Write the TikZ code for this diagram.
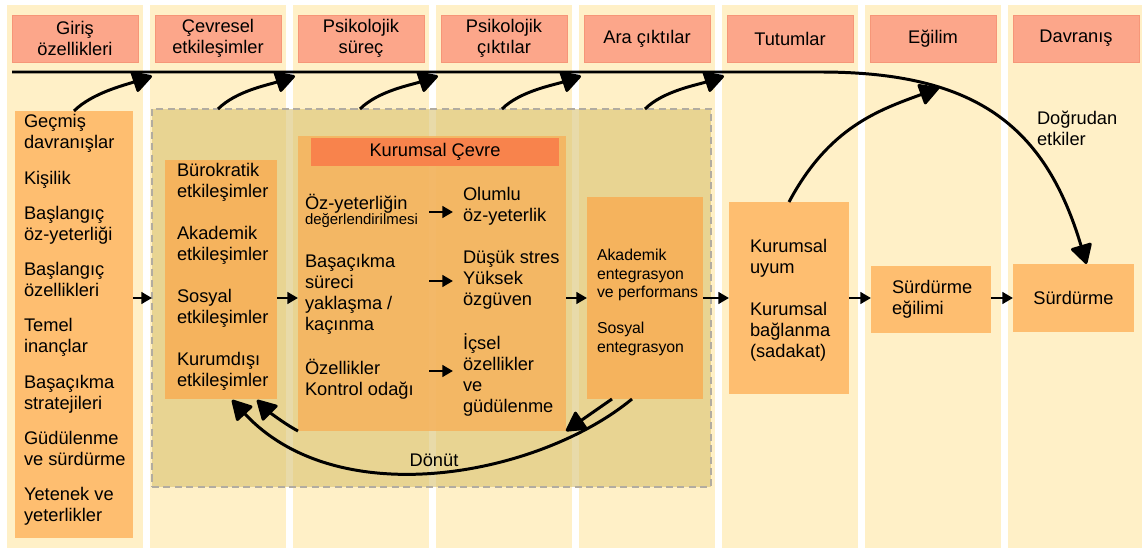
\documentclass[tikz,border=0pt]{standalone}
\usepackage{fontspec}
\setmainfont{Liberation Sans}
\usetikzlibrary{arrows.meta,calc}

\definecolor{colbg}{RGB}{255,240,199}
\definecolor{headfill}{RGB}{252,166,138}
\definecolor{headline}{RGB}{246,150,120}
\definecolor{boxlight}{RGB}{254,190,112}
\definecolor{boxdark}{RGB}{245,179,93}
\definecolor{envhead}{RGB}{249,127,74}
\definecolor{tanfill}{RGB}{218,194,112}
\definecolor{dashgray}{RGB}{178,172,160}

\newcommand\fmain{\fontsize{10.4}{11.9}\selectfont}
\newcommand\fara{\fontsize{9}{10.5}\selectfont}
\newcommand\fnote{\fontsize{8.5}{10}\selectfont}
\newcommand\rows[1]{\begin{tabular}[t]{@{}l@{}}#1\end{tabular}}

\tikzset{
  px/.style 2 args={minimum width=#1*0.02cm, minimum height=#2*0.02cm},
  colhead/.style={fill=headfill, draw=headline, line width=0.4pt, inner sep=0, align=center, font=\fmain},
  box/.style={inner sep=0, outer sep=0},
  txt/.style={inner sep=0, outer sep=0, font=\fmain, anchor=base west},
  flow/.style={line width=1.7pt, -{Triangle[length=6pt,width=6.5pt]}},
  bigarrow/.style={line width=1.7pt, line join=round, -{Triangle[length=12pt,width=13pt,round]}},
}

\begin{document}
\begin{tikzpicture}[x=0.02cm, y=-0.02cm]
\useasboundingbox (0,0) rectangle (1142,550);
\fill[white] (0,0) rectangle (1142,550);

% stage columns and their headings
\foreach \i in {0,...,7}
  \fill[colbg] ({7+143*\i},5) rectangle ({143+143*\i},548);
\foreach \t [count=\i from 0] in {{Giriş\\özellikleri},{Çevresel\\etkileşimler},{Psikolojik\\süreç},{Psikolojik\\çıktılar},{Ara çıktılar},{Tutumlar},{Eğilim},{Davranış}}
  \node[colhead, px={126}{47}] (h\i) at ({75+143*\i},38.5) {\t};

% institutional environment group
\node[box, px={559}{378}, fill=tanfill, fill opacity=0.6, draw=dashgray, dash pattern=on 4pt off 2.5pt, line width=0.7pt] (grp) at (431.5,298) {};

% boxes
\node[box, px={118}{427}, fill=boxlight] (inp) at (74,324.5) {};
\node[box, px={112}{239}, fill=boxdark] (bur) at (221,279.5) {};
\node[box, px={268}{295}, fill=boxdark, fill opacity=0.85] (env) at (432,283.5) {};
\node[box, px={248}{28}, fill=envhead, fill opacity=0.92, text opacity=1, font=\fmain] (envh) at (435,152) {Kurumsal Çevre};
\node[box, px={116}{202}, fill=boxdark] (ara) at (645,298) {};
\node[box, px={120}{192}, fill=boxlight] (uyum) at (789,298) {};
\node[box, px={120}{67}, fill=boxlight] (egil) at (931,299.5) {};
\node[box, px={121}{68}, fill=boxlight, font=\fmain] (surd) at (1073.5,298) {Sürdürme};

% box texts
\node[txt] (inpt) at (24,128) {\rows{Geçmiş\\davranışlar\\[8.2pt]Kişilik\\[8.2pt]Başlangıç\\öz-yeterliği\\[8.2pt]Başlangıç\\özellikleri\\[8.2pt]Temel\\inançlar\\[8.2pt]Başaçıkma\\stratejileri\\[8.2pt]Güdülenme\\ve sürdürme\\[8.2pt]Yetenek ve\\yeterlikler}};
\node[txt] (burt) at (177,177) {\rows{Bürokratik\\etkileşimler\\[12pt]Akademik\\etkileşimler\\[12pt]Sosyal\\etkileşimler\\[12pt]Kurumdışı\\etkileşimler}};
\node[txt] (ea) at (305,210) {\rows{Öz-yeterliğin\\[-3.4pt]{\fnote değerlendirilmesi}}};
\node[txt] (eb) at (305,268) {\rows{Başaçıkma\\süreci\\yaklaşma /\\kaçınma}};
\node[txt] (ec) at (305,375) {\rows{Özellikler\\Kontrol odağı}};
\node[txt] (ra) at (463,201) {\rows{Olumlu\\öz-yeterlik}};
\node[txt] (rb) at (463,264) {\rows{Düşük stres\\Yüksek\\özgüven}};
\node[txt] (rc) at (463,350) {\rows{İçsel\\özellikler\\ve\\güdülenme}};
\node[txt, font=\fara] (arat) at (597,261) {\rows{Akademik\\entegrasyon\\ve performans\\[9.9pt]Sosyal\\entegrasyon}};
\node[txt] (uyumt) at (750,253) {\rows{Kurumsal\\uyum\\[11.9pt]Kurumsal\\bağlanma\\(sadakat)}};
\node[txt] (egilt) at (892,294) {\rows{Sürdürme\\eğilimi}};
\node[txt] (dog) at (1037,125) {\rows{Doğrudan\\etkiler}};
\node[inner sep=0, font=\fmain, anchor=base] (don) at (434,466) {Dönüt};

% main flow
\coordinate (row) at (0,298);
\draw[flow] (inp.east |- row) -- (grp.west |- row);
\draw[flow] (bur.east |- row) -- (env.west |- row);
\draw[flow] (env.east |- row) -- (ara.west |- row);
\draw[flow] (ara.east |- row) -- (uyum.west |- row);
\draw[flow] (uyum.east |- row) -- (egil.west |- row);
\draw[flow] (egil.east |- row) -- (surd.west |- row);

% arrows inside the institutional environment
\coordinate (ia) at (429,212);
\coordinate (ib) at (429,281);
\coordinate (ic) at (429,371);
\draw[flow, shorten >=0.2cm] (ia) -- (ia -| ra.west);
\draw[flow, shorten >=0.2cm] (ib) -- (ib -| rb.west);
\draw[flow, shorten >=0.2cm] (ic) -- (ic -| rc.west);

% direct-effects line along the top
\coordinate (lstart) at (12,72);
\coordinate (lbend) at (820,72);
\coordinate (dmid) at (939,88);
\draw[bigarrow] (lstart) -- (lbend) .. controls (975,72) and (1045,125) .. ([xshift=0.26cm]surd.north);
\foreach \i in {1,...,5} \coordinate (t\i) at ({152+143*(\i-1)},76);
\draw[bigarrow] (inp.north) .. controls +(18,-18) and +(-27,9) .. (t1);
\foreach \d [count=\i from 2] in {66,208,350,493}
  \draw[bigarrow] ($(grp.north west)+(\d,0)$) .. controls +(18,-18) and +(-27,9) .. (t\i);
\draw[bigarrow] (uyum.north) .. controls +(40,-75) and +(-60,22) .. (dmid);

% feedback
\draw[bigarrow] ($(ara.south west)+(25,0)$) -- (env.south east);
\draw[bigarrow] (env.south west) .. controls +(-15,-8) and +(10,10) .. ($(bur.south)+(36,1)$);
\draw[bigarrow] ($(ara.south west)+(45,0)$) .. controls +(-92,76) and +(107,115) .. ($(bur.south)+(11,1)$);
\end{tikzpicture}
\end{document}
